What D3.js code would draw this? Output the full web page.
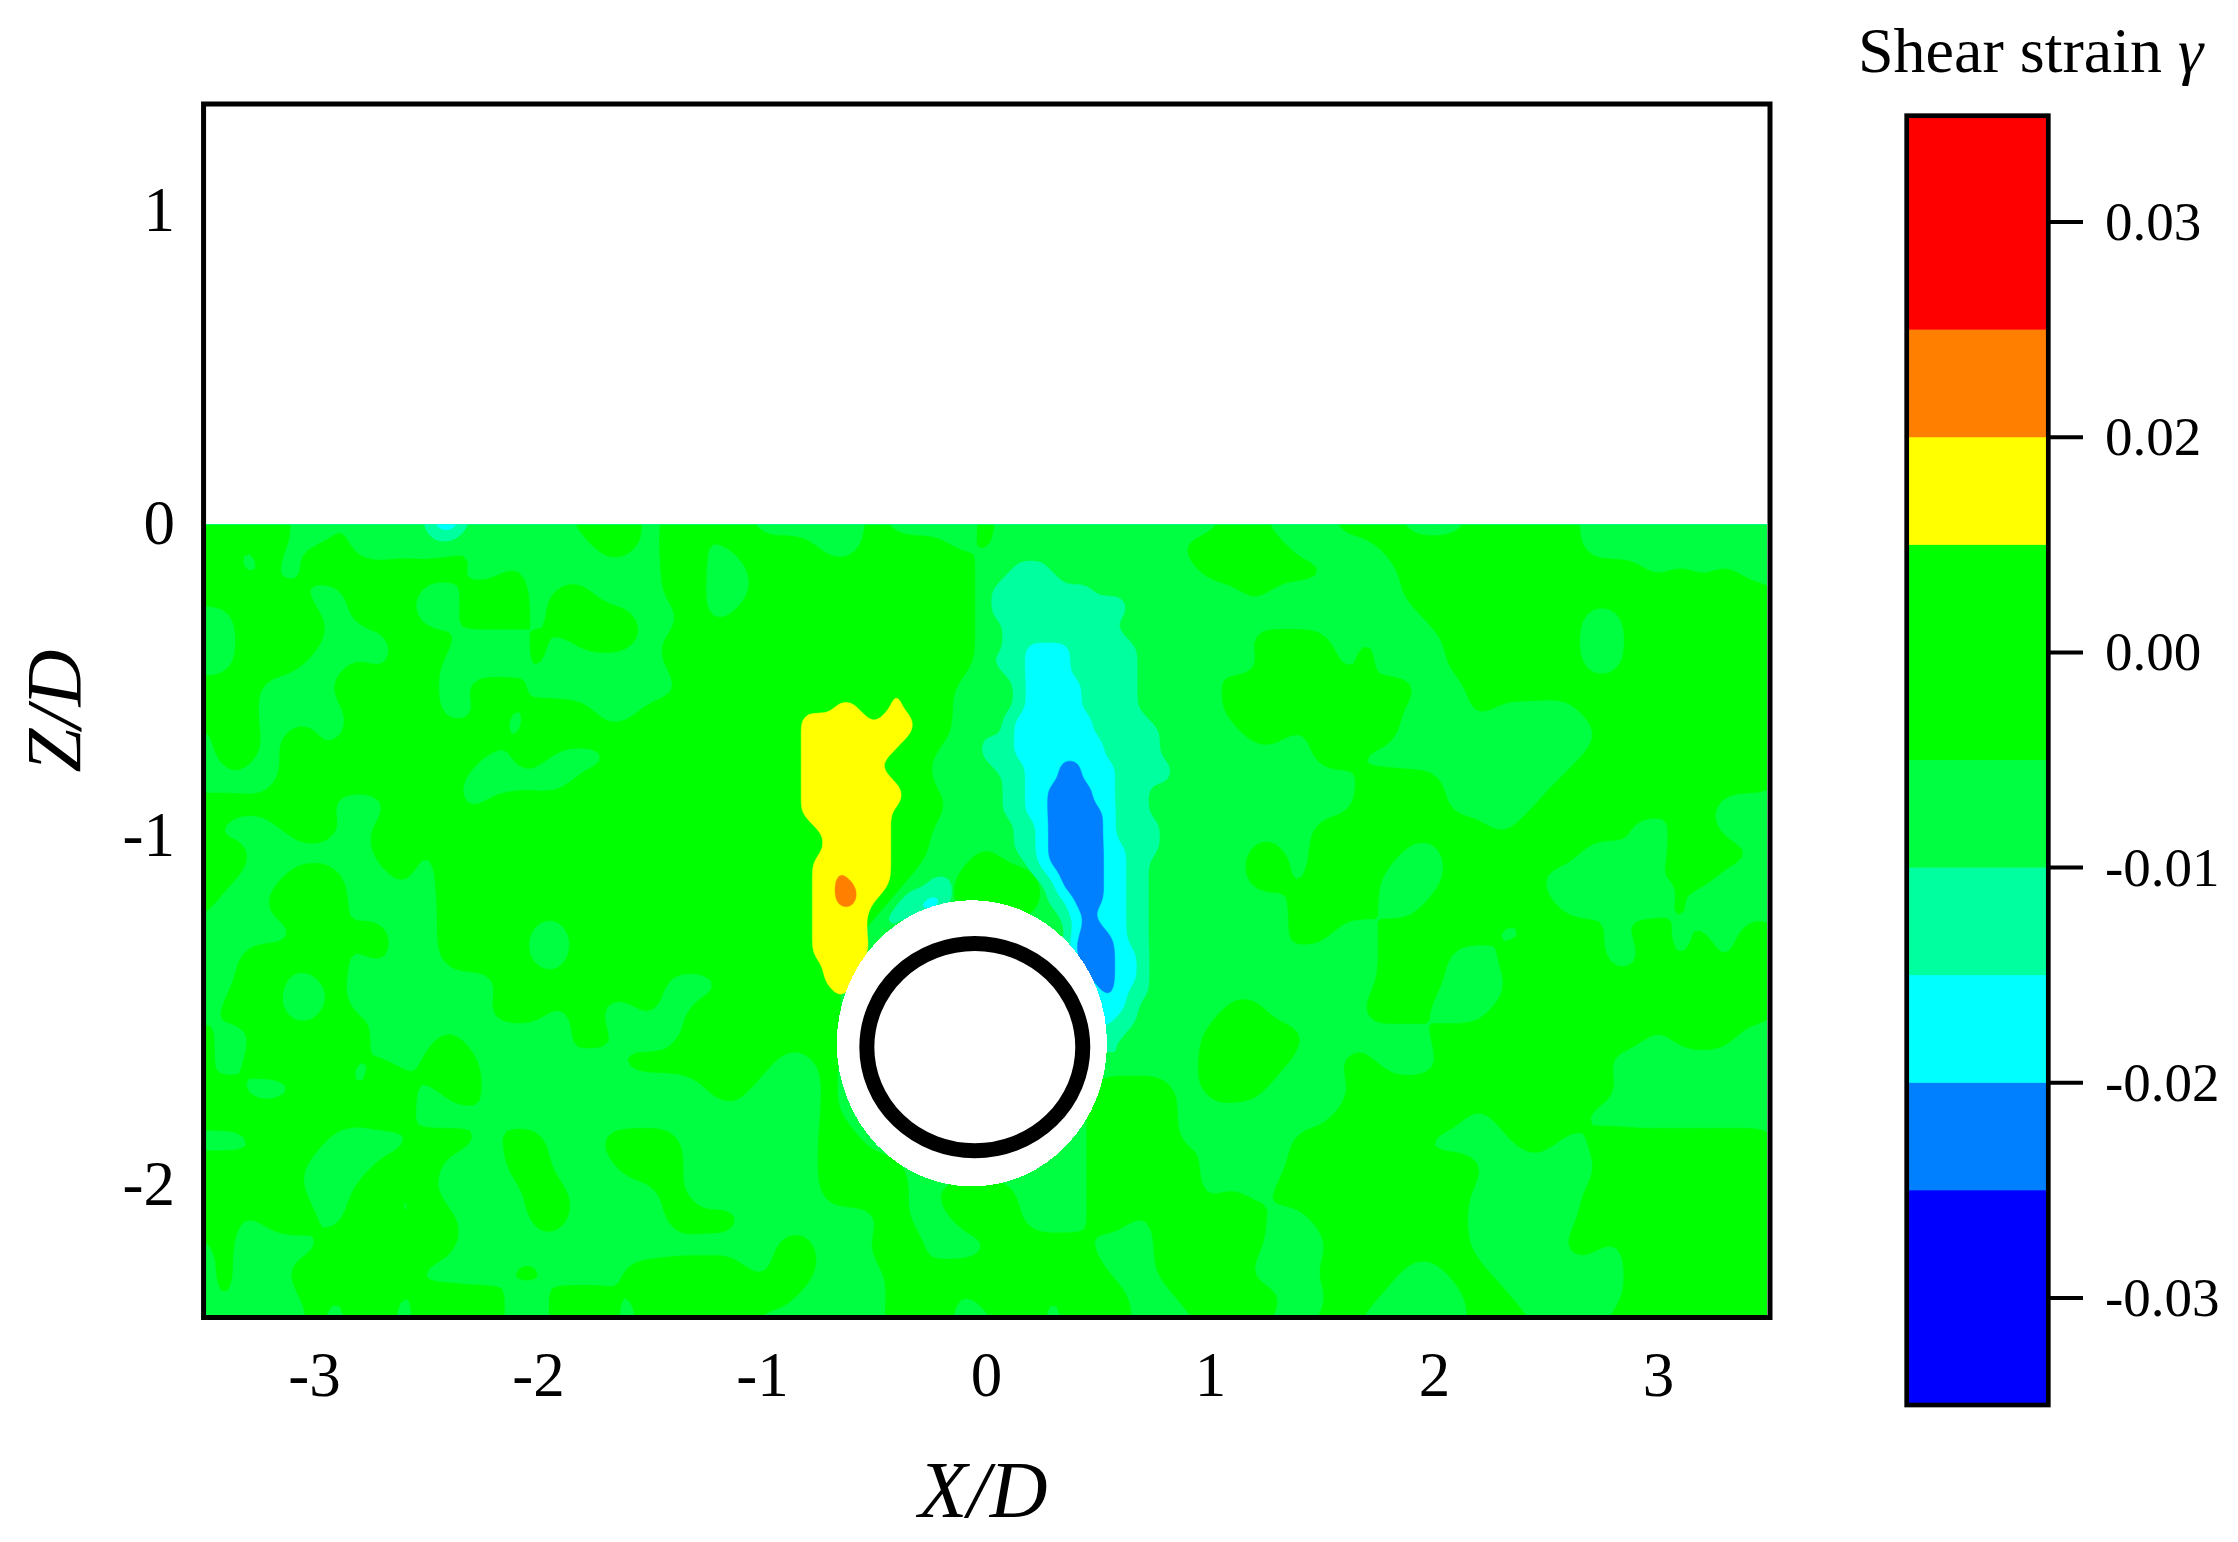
<!DOCTYPE html>
<html><head><meta charset="utf-8">
<script src="https://cdn.jsdelivr.net/npm/d3@7/dist/d3.min.js"></script>
<style>html,body{margin:0;background:#fff}svg{display:block}text{font-family:"Liberation Serif",serif;fill:#000}</style>
</head><body><svg id="c" width="2238" height="1542"></svg>
<script>
// Colour bar: band edges and colours; tick positions and the labels printed at them
const bandEdges=[-0.036,-0.024,-0.018,-0.012,-0.006,0,0.012,0.018,0.024,0.036];
const bandColors=["#0000ff","#007fff","#00ffff","#00ff9f","#00ff40","#00ff00","#ffff00","#ff7f00","#ff0000"];
const barTicks=[0.03,0.018,0.006,-0.006,-0.018,-0.03];
const barLabels=["0.03","0.02","0.00","-0.01","-0.02","-0.03"];
const xTicks=[-3,-2,-1,0,1,2,3];
const zTicks=[1,0,-1,-2];
// Pipe cross-section in X/D, Z/D
const ringCentre=[-0.05,-1.605], ringRadii=[0.482,0.297];
const maskCentre=[-0.063,-1.594], maskRadii=[0.603,0.41];
// Background field, read on a grid: X=-3.5+0.1*col, Z=-0.075*row. Each row lists column spans at gamma>0
const positiveSpans=[
[[0,4],[6,6],[9,9],[12,12],[17,19],[21,21],[23,24],[30,30],[35,35],[41,41],[46,47],[51,53],[57,61]],
[[0,1],[3,3],[5,6],[11,12],[18,19],[21,22],[24,27],[30,33],[35,35],[44,48],[53,61]],
[[0,1],[3,3],[5,11],[14,14],[21,22],[25,34],[42,42],[45,50],[54,64],[66,66],[68,68]],
[[0,2],[4,4],[7,7],[9,9],[12,14],[16,17],[21,22],[25,34],[47,47],[54,70]],
[[2,5],[7,9],[12,14],[16,19],[22,22],[24,34],[55,61],[64,70]],
[[2,5],[9,11],[15,15],[17,19],[21,34],[47,50],[52,52],[56,61],[64,70]],
[[2,4],[7,7],[9,10],[15,15],[21,34],[45,45],[48,50],[52,52],[56,61],[64,70]],
[[0,2],[6,10],[12,14],[22,33],[46,51],[53,54],[57,70]],
[[0,2],[7,10],[13,13],[15,17],[20,33],[46,53],[57,57],[62,70]],
[[1,2],[4,5],[7,13],[15,33],[47,48],[50,53],[59,59],[63,70]],
[[1,2],[4,4],[6,8],[10,12],[14,15],[19,32],[50,51],[59,59],[62,70]],
[[4,11],[17,32],[52,55],[61,70]],
[[0,5],[9,11],[13,33],[48,48],[52,55],[60,65],[67,67]],
[[0,0],[4,6],[8,17],[19,32],[50,57],[59,63],[66,67]],
[[1,2],[8,9],[11,17],[19,32],[35,35],[47,48],[50,53],[56,61],[64,64],[66,69]],
[[0,1],[4,6],[9,9],[11,12],[14,15],[17,31],[34,37],[47,48],[50,52],[56,59],[65,65],[67,67]],
[[0,0],[3,6],[11,17],[19,19],[21,30],[34,37],[49,52],[55,60],[63,63],[66,66]],
[[5,5],[7,8],[11,14],[17,29],[49,50],[53,57],[60,62],[64,65],[67,67],[69,70]],
[[2,6],[8,8],[11,14],[17,28],[48,48],[53,55],[58,62],[65,65],[67,67],[69,70]],
[[2,3],[6,6],[14,20],[24,28],[53,55],[59,70]],
[[1,3],[6,6],[8,8],[13,15],[17,17],[20,20],[22,28],[46,47],[52,54],[58,70]],
[[0,0],[3,7],[11,11],[17,18],[22,22],[24,28],[45,49],[55,59],[61,64],[66,68]],
[[0,0],[2,6],[8,8],[10,12],[16,16],[19,25],[28,28],[45,48],[51,52],[56,62]],
[[1,1],[5,6],[8,9],[11,12],[23,24],[28,28],[40,43],[45,47],[52,63]],
[[0,9],[13,13],[28,28],[40,43],[51,56],[58,61]],
[[3,5],[10,12],[14,15],[18,21],[24,24],[28,29],[40,43],[45,45],[49,52],[54,54],[59,60],[62,70]],
[[0,2],[4,4],[8,10],[14,15],[19,21],[24,24],[28,31],[40,44],[49,53],[55,57],[63,70]],
[[0,4],[7,8],[10,10],[15,16],[21,21],[28,31],[33,36],[40,44],[46,46],[48,56],[62,70]],
[[0,1],[3,5],[7,8],[10,11],[13,13],[15,16],[21,24],[31,31],[34,36],[40,41],[43,47],[50,56],[62,70]],
[[1,1],[6,11],[26,27],[30,32],[36,39],[43,47],[51,56],[61,62],[64,70]],
[[1,1],[4,9],[14,15],[19,24],[26,27],[31,31],[33,40],[43,46],[50,53],[56,57],[64,70]],
[[1,1],[5,5],[7,8],[10,13],[16,18],[20,26],[31,33],[35,37],[39,41],[44,48],[51,52],[57,58],[64,70]],
[[5,5],[7,8],[10,13],[16,18],[20,24],[31,33],[36,37],[39,41],[45,47],[50,51],[57,59],[63,70]]
];
const positiveLevel=0.003, negativeLevel=-0.003;
// Small strain spots along the free surface: [col,row,gamma]
const edgeSpots=[[11,0,-0.034],[5,0,-0.012]];
// Wake field near the pipe, on a finer grid: X=-0.95+0.05*j, Z=-0.1-0.0375*k. Rows are [k,jFrom,jTo]
const tealCells=[[1,22,24],[2,21,25],[3,20,28],[4,20,31],[5,20,31],[6,21,30],[7,21,31],[8,21,32],[9,20,32],[10,21,32],[11,22,32],[12,22,32],[13,22,32],[14,21,33],[15,21,34],[16,19,34],[17,19,34],[18,20,35],[19,21,35],[20,21,33],[21,21,33],[22,21,33],[23,22,34],[24,22,34],[25,22,34],[26,23,33],[27,24,33],[27,14,16],[28,25,33],[28,12,16],[29,25,33],[29,11,16],[30,26,33],[30,10,15],[31,27,33],[31,10,11],[32,27,33],[33,27,33],[34,27,33],[35,27,33],[36,27,33],[37,27,32],[38,27,32],[39,27,31],[40,27,30]];
const cyanCells=[[8,23,26],[9,23,26],[10,23,26],[11,23,27],[12,23,27],[13,23,27],[14,22,28],[15,22,28],[16,22,29],[17,22,29],[18,23,30],[19,23,30],[20,23,30],[21,23,30],[22,23,30],[23,24,30],[24,24,30],[25,24,31],[26,24,31],[27,25,31],[28,26,31],[29,27,31],[30,27,31],[31,27,31],[32,27,31],[33,27,32],[34,27,32],[35,27,32],[36,27,31],[37,27,31],[38,27,30],[29,14,15],[30,12,14]];
const blueCells=[[18,26,27],[19,26,27],[20,25,28],[21,25,28],[22,25,29],[23,25,29],[24,25,29],[25,25,29],[26,25,29],[27,26,29],[28,26,29],[29,27,29],[30,28,28],[31,28,29],[32,27,30],[33,27,30],[34,28,30],[35,29,30],[36,30,30]];
const yellowCells=[[10,11,11],[12,11,11],[13,6,7],[13,11,11],[14,3,8],[14,10,12],[15,3,12],[16,3,11],[17,3,10],[18,3,9],[19,3,10],[20,3,11],[21,3,11],[22,3,10],[23,4,10],[24,5,10],[25,5,10],[26,4,10],[27,4,10],[28,4,10],[29,4,9],[30,4,8],[31,4,8],[32,4,8],[33,4,8],[34,5,7],[35,5,7],[36,6,6]];
const orangeCells=[[27,6,6],[28,6,7],[29,6,7]];
const cellLevels={teal:-0.009,cyan:-0.015,blue:-0.021,yellow:0.015,orange:0.021};

const svg=d3.select("#c");
const x=d3.scaleLinear().domain([-3.5,3.5]).range([202,1770]);
const z=d3.scaleLinear().domain([1.343,1,0,-1,-2,-2.38]).range([104,211,524,836,1185,1317.5]);
const barY=d3.scaleLinear().domain([-0.036,0.036]).range([1405,114]);
const FIELD={left:206,right:1767,top:524,bottom:1316};

svg.append("defs").append("clipPath").attr("id","field").append("rect")
 .attr("x",FIELD.left).attr("y",FIELD.top).attr("width",FIELD.right-FIELD.left).attr("height",FIELD.bottom-FIELD.top);
const plot=svg.append("g").attr("clip-path","url(#field)");
plot.append("rect").attr("x",FIELD.left).attr("y",FIELD.top).attr("width",FIELD.right-FIELD.left).attr("height",FIELD.bottom-FIELD.top).attr("fill",bandColors[4]);

function bandColor(t){const i=bandEdges.indexOf(t);return t<0?bandColors[i-1]:bandColors[i];}
// Refine each read grid cell and round the cell corners with d3.blur2 before contouring
function drawField(values,n,m,proj,thresholds,factor,radius){
 const N=n*factor,M=m*factor,fine=new Float64Array(N*M);
 for(let b=0;b<M;b++)for(let a=0;a<N;a++)fine[b*N+a]=values[Math.floor(b/factor)*n+Math.floor(a/factor)];
 d3.blur2({data:fine,width:N,height:M},radius);
 const path=d3.geoPath(d3.geoTransform({point(a,b){const p=proj(a/factor-0.5,b/factor-0.5);this.stream.point(p[0],p[1]);}}));
 thresholds.forEach(t=>{
  const v=t<0?Array.from(fine,d=>-d):Array.from(fine);
  const c=d3.contours().size([N,M]).thresholds([Math.abs(t)])(v)[0];
  plot.append("path").attr("d",path(c)).attr("fill",bandColor(t)).attr("stroke",bandColor(t)).attr("stroke-width",0.5);
 });
}
// background field
const nCols=72,nRows=positiveSpans.length;
const bg=new Array(nCols*nRows).fill(negativeLevel);
positiveSpans.forEach((row,r)=>row.forEach(([a,b])=>{for(let i=a;i<=b;i++)bg[r*nCols+i]=positiveLevel;}));
edgeSpots.forEach(([c,r,v])=>{bg[r*nCols+c]=v;});
drawField(bg,nCols,nRows,(i,j)=>[x(-3.5+0.1*i),z(-0.075*j)],[0,-0.006,-0.012,-0.018],4,2);
// wake field
const nJ=37,nK=41;
const wake=new Array(nJ*nK);
for(let k=0;k<nK;k++)for(let j=0;j<nJ;j++)wake[k*nJ+j]=j<=17?0.009:-0.003;
[[tealCells,cellLevels.teal],[cyanCells,cellLevels.cyan],[blueCells,cellLevels.blue],[yellowCells,cellLevels.yellow],[orangeCells,cellLevels.orange]]
 .forEach(([cells,lv])=>cells.forEach(([k,a,b])=>{for(let j=a;j<=b;j++)wake[k*nJ+j]=lv;}));
drawField(wake,nJ,nK,(j,k)=>[x(-0.95+0.05*j),z(-0.1-0.0375*k)],[-0.006,-0.012,-0.018,0.012,0.018],4,2);
// free-surface line
plot.append("line").attr("x1",FIELD.left).attr("x2",FIELD.right).attr("y1",z(0)).attr("y2",z(0)).attr("stroke","#00ffd0").attr("stroke-width",1);
// pipe
const ellipse=(c,r)=>({cx:x(c[0]),cy:z(c[1]),rx:x(c[0]+r[0])-x(c[0]),ry:z(c[1]-r[1])-z(c[1])});
const mk=ellipse(maskCentre,maskRadii), rg=ellipse(ringCentre,ringRadii);
plot.append("ellipse").attr("cx",mk.cx).attr("cy",mk.cy).attr("rx",mk.rx).attr("ry",mk.ry).attr("fill","#fff").attr("shape-rendering","crispEdges");
plot.append("ellipse").attr("cx",rg.cx).attr("cy",rg.cy).attr("rx",rg.rx).attr("ry",rg.ry).attr("fill","#fff").attr("stroke","#000").attr("stroke-width",15);
// frame
svg.append("rect").attr("x",x(-3.493)).attr("y",104).attr("width",x(3.5)-x(-3.493)).attr("height",z(-2.38)-104).attr("fill","none").attr("stroke","#000").attr("stroke-width",5);
// axes
const ax=svg.append("g").attr("transform","translate(0,1396)").call(d3.axisBottom(x).tickValues(xTicks).tickSize(0).tickFormat(String));
ax.select(".domain").remove();
ax.selectAll("text").attr("y",0).attr("dy",0).attr("font-size",63).style("font-family",'"Liberation Serif"');
const ay=svg.append("g").attr("transform","translate(175,0)").call(d3.axisLeft(z).tickValues(zTicks).tickSize(0).tickPadding(0).tickFormat(String));
ay.select(".domain").remove();
ay.selectAll("text").attr("dy",19).attr("font-size",63).style("font-family",'"Liberation Serif"');
svg.append("text").attr("x",983).attr("y",1517).attr("text-anchor","middle").attr("font-size",80).attr("font-style","italic").text("X/D");
svg.append("text").attr("transform","translate(80,711) rotate(-90)").attr("text-anchor","middle").attr("font-size",79).attr("font-style","italic").text("Z/D");
// colour bar
const bar=svg.append("g");
bar.selectAll("rect").data(bandColors).join("rect").attr("x",1907).attr("width",141)
 .attr("y",(d,i)=>barY(bandEdges[i+1])).attr("height",(d,i)=>barY(bandEdges[i])-barY(bandEdges[i+1])+0.5).attr("fill",d=>d);
bar.append("rect").attr("x",1906.7).attr("y",115.7).attr("width",141.6).attr("height",barY(-0.036)-115.7).attr("fill","none").attr("stroke","#000").attr("stroke-width",4.7);
const by=svg.append("g").attr("transform","translate(2050,0)").call(d3.axisRight(barY).tickValues(barTicks).tickSize(33).tickPadding(22).tickFormat((d,i)=>barLabels[i]));
by.select(".domain").remove();
by.selectAll("line").attr("stroke","#000").attr("stroke-width",4);
by.selectAll("text").attr("dy",18).attr("font-size",55).style("font-family",'"Liberation Serif"');
const title=svg.append("text").attr("x",1858).attr("y",72).attr("font-size",64);
title.append("tspan").text("Shear strain ");
title.append("tspan").attr("font-style","italic").text("γ");
</script></body></html>
